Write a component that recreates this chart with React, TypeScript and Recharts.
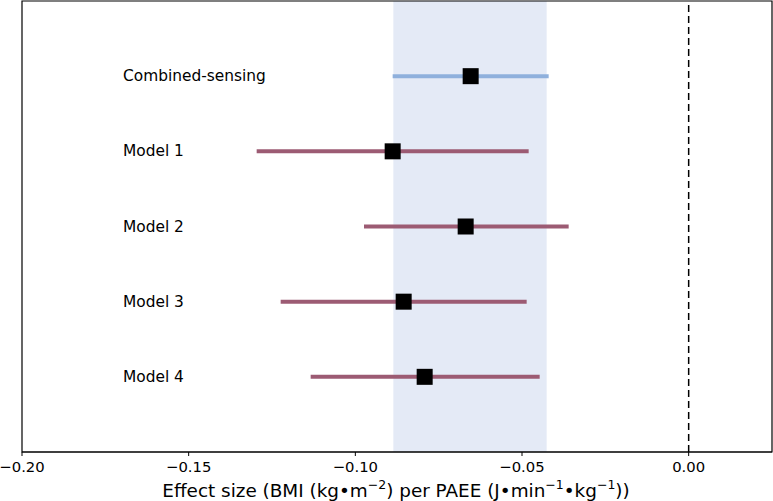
import {
  ScatterChart, Scatter, XAxis, YAxis, ErrorBar, ReferenceArea, ReferenceLine, Label,
} from "recharts";

// estimates
const models = ["Combined-sensing", "Model 1", "Model 2", "Model 3", "Model 4"];
const estimates = [-0.0654, -0.0888, -0.0669, -0.0855, -0.0792];
const ciLow = [-0.0888, -0.1296, -0.0974, -0.1224, -0.1134];
const ciHigh = [-0.042, -0.048, -0.036, -0.0486, -0.0447];
const xTicks = [-0.2, -0.15, -0.1, -0.05, 0];
const band = [-0.0886, -0.0426];

const rows = models.map((name, i) => ({
  name,
  row: i + 1,
  est: estimates[i],
  err: [estimates[i] - ciLow[i], ciHigh[i] - estimates[i]],
}));
const combined = rows.slice(0, 1);
const others = rows.slice(1);

const FONT = "'DejaVu Sans', sans-serif";

const fmt = (v: number) => {
  const s = Math.abs(v).toFixed(2);
  return v < -1e-9 ? "\u2212" + s : s;
};

const Square = (props: any) => {
  const { cx, cy } = props;
  return <rect x={cx - 8} y={cy - 8} width={16} height={16} fill="#000" />;
};

const RowTick = (props: any) => {
  const { y, payload } = props;
  const name = models[payload.value - 1];
  if (!name) return null;
  return (
    <text x={123} y={y} dy={5} fontSize={15.4} fontFamily={FONT} fill="#000" textAnchor="start">
      {name}
    </text>
  );
};

const XTick = (props: any) => {
  const { x, y, payload } = props;
  return (
    <text x={x} y={y} dy={14} fontSize={14.8} fontFamily={FONT} fill="#000" textAnchor="middle">
      {fmt(payload.value)}
    </text>
  );
};

const AxisTitle = (props: any) => {
  const { viewBox } = props;
  const cx = viewBox.x + viewBox.width / 2 - 1;
  const y = 497;
  return (
    <text x={cx} y={y} textAnchor="middle" fontSize={18.4} fontFamily={FONT} fill="#000">
      Effect size (BMI (kg•m
      <tspan dy={-8} fontSize={12.5}>−2</tspan>
      <tspan dy={8}>) per PAEE (J•min</tspan>
      <tspan dy={-8} fontSize={12.5}>−1</tspan>
      <tspan dy={8}>•kg</tspan>
      <tspan dy={-8} fontSize={12.5}>−1</tspan>
      <tspan dy={8}>))</tspan>
    </text>
  );
};

export default function App() {
  return (
    <div style={{ position: "absolute", left: 0, top: 0, background: "#fff" }}>
      <ScatterChart
        width={773}
        height={501}
        margin={{ top: 1, right: 1, left: 22, bottom: 1 }}
      >
        <XAxis
          type="number"
          dataKey="est"
          domain={[-0.2, 0.025]}
          ticks={xTicks}
          tick={<XTick />}
          tickLine={{ stroke: "#000" }}
          axisLine={{ stroke: "#000" }}
          tickSize={4}
          height={48}
          allowDataOverflow
        >
          <Label content={<AxisTitle />} />
        </XAxis>
        <YAxis
          type="number"
          dataKey="row"
          domain={[0, 6]}
          reversed
          ticks={[1, 2, 3, 4, 5]}
          axisLine={false}
          tickLine={false}
          mirror
          width={60}
          tick={<RowTick />}
        />
        <ReferenceArea
          x1={band[0]}
          x2={band[1]}
          y1={0}
          y2={6}
          fill="#e4eaf6"
          fillOpacity={1}
          stroke="none"
        />
        <ReferenceLine x={0} stroke="#000" strokeWidth={1.5} strokeDasharray="7 4" />
        <Scatter data={combined} shape={<Square />} isAnimationActive={false}>
          <ErrorBar dataKey="err" direction="x" width={0} stroke="#8fb0dc" strokeWidth={4} />
        </Scatter>
        <Scatter data={others} shape={<Square />} isAnimationActive={false}>
          <ErrorBar dataKey="err" direction="x" width={0} stroke="#9c5b73" strokeWidth={4} />
        </Scatter>
        <ReferenceArea
          x1={-0.2}
          x2={0.025}
          y1={0}
          y2={6}
          fill="none"
          stroke="#000"
          strokeWidth={1.2}
        />
      </ScatterChart>
    </div>
  );
}
